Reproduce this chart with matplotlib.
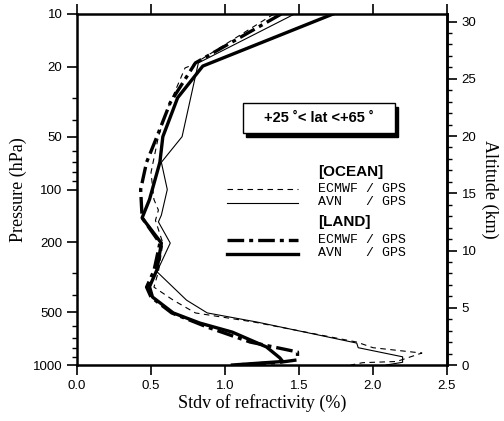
import matplotlib
matplotlib.use("Agg")
import matplotlib.pyplot as plt
from matplotlib.patches import Rectangle
from matplotlib.ticker import FixedLocator, NullFormatter
import numpy as np

# stdv of refractivity (%) vs pressure (hPa)
ocean_ecmwf_x = [1.33, 0.78, 0.73, 0.61, 0.55, 0.50, 0.52, 0.55, 0.53, 0.58, 0.55, 0.52,
                 0.65, 0.80, 1.20, 1.89, 2.00, 2.33, 2.16, 1.93, 1.85]
ocean_ecmwf_p = [10, 19.5, 20.3, 35, 50, 80, 114, 131, 150, 202, 294, 360,
                 427, 505, 570, 740, 797, 855, 955, 970, 1000]

ocean_avn_x = [1.47, 0.82, 0.71, 0.57, 0.61, 0.57, 0.55, 0.63, 0.54, 0.74, 0.88, 1.22,
               1.89, 1.90, 2.20, 2.20, 2.09]
ocean_avn_p = [10, 19, 50, 70, 100, 140, 153, 202, 294, 427, 505, 570,
               750, 797, 898, 965, 1000]

land_ecmwf_x = [1.38, 0.80, 0.63, 0.54, 0.47, 0.43, 0.44, 0.56, 0.52, 0.47, 0.50, 0.64,
                0.88, 1.17, 1.49, 1.49, 1.35, 1.07]
land_ecmwf_p = [10, 19, 32, 50, 70, 100, 145, 202, 290, 360, 410, 505,
                608, 740, 843, 935, 970, 1000]

land_avn_x = [1.73, 0.85, 0.68, 0.58, 0.56, 0.49, 0.44, 0.57, 0.54, 0.49, 0.51, 0.65,
              0.83, 1.05, 1.28, 1.37, 1.39, 1.05]
land_avn_p = [10, 19.8, 30, 50, 70, 114, 145, 202, 287, 358, 410, 505,
              577, 650, 789, 910, 955, 1000]

x_ticks = [0.0, 0.5, 1.0, 1.5, 2.0, 2.5]
p_ticks = [10, 20, 50, 100, 200, 500, 1000]
z_ticks = [0, 5, 10, 15, 20, 25, 30]

Z_TOP = 30.66


def p2z(p):
    p = np.clip(np.asarray(p, dtype=float), 1e-6, None)
    return Z_TOP / 2 * (3 - np.log10(p))


def z2p(z):
    return 10 ** (3 - np.asarray(z, dtype=float) / (Z_TOP / 2))


sans = "Liberation Sans"
serif = "Liberation Serif"
mono = "Liberation Mono"

fig = plt.figure(figsize=(5.04, 4.21), dpi=100)
ax = fig.add_axes([77 / 504, 1 - 365 / 421, 370 / 504, 351 / 421])

ax.plot(ocean_ecmwf_x, ocean_ecmwf_p, color="black", lw=0.8, ls=(0, (5, 4)))
ax.plot(ocean_avn_x, ocean_avn_p, color="black", lw=0.8)
ax.plot(land_ecmwf_x, land_ecmwf_p, color="black", lw=2.4, ls=(0, (5, 1.5, 1.2, 1.5)))
ax.plot(land_avn_x, land_avn_p, color="black", lw=2.4)

ax.set_yscale("log")
ax.set_ylim(1000, 10)
ax.set_xlim(0, 2.5)
ax.yaxis.set_major_locator(FixedLocator(p_ticks))
ax.set_yticklabels([str(t) for t in p_ticks], family=sans, fontsize=9.5)
ax.yaxis.set_minor_formatter(NullFormatter())
ax.set_xticks(x_ticks)
ax.set_xticklabels([f"{t:.1f}" for t in x_ticks], family=sans, fontsize=9.5)
ax.tick_params(axis="both", which="major", direction="out", length=7, width=1.2)
ax.tick_params(axis="y", which="minor", direction="out", length=3.5, width=1)
ax.tick_params(axis="x", top=True, labeltop=False)
for s in ax.spines.values():
    s.set_linewidth(1.8)

ax.set_xlabel("Stdv of refractivity (%)", family=serif, fontsize=13, labelpad=2)
ax.set_ylabel("Pressure (hPa)", family=serif, fontsize=13, labelpad=4)

sec = ax.secondary_yaxis("right", functions=(p2z, z2p))
sec.set_yticks(z_ticks)
sec.set_yticklabels([str(t) for t in z_ticks], family=sans, fontsize=9.5)
sec.yaxis.set_minor_locator(FixedLocator(np.arange(0, 31, 1)))
sec.yaxis.set_minor_formatter(NullFormatter())
sec.tick_params(which="major", direction="out", length=7, width=1.2)
sec.tick_params(which="minor", direction="out", length=3.5, width=1)
sec.spines["right"].set_linewidth(1.8)
sec.set_ylabel("Altitude (km)", family=serif, fontsize=13, rotation=270, labelpad=16)

# latitude box with shadow
bx0, bx1 = (243 - 77) / 370, (395 - 77) / 370
by0, by1 = (365 - 133) / 351, (365 - 103) / 351
ax.add_patch(Rectangle((bx0 + 0.009, by0 - 0.01), bx1 - bx0, by1 - by0,
                       transform=ax.transAxes, facecolor="black", edgecolor="black", zorder=5))
ax.add_patch(Rectangle((bx0, by0), bx1 - bx0, by1 - by0, transform=ax.transAxes,
                       facecolor="white", edgecolor="black", lw=1, zorder=6))
ax.text((bx0 + bx1) / 2, (by0 + by1) / 2, "+25 \u02da< lat <+65 \u02da",
        transform=ax.transAxes, ha="center", va="center", family=sans,
        fontsize=10.5, fontweight="bold", zorder=7)

# legend
lx0, lx1 = (227 - 77) / 370, (298 - 77) / 370
tx = (318 - 77) / 370


def fy(py):
    return (365 - py) / 351


ax.text(tx, fy(172), "[OCEAN]", transform=ax.transAxes, family=sans, fontsize=11,
        fontweight="bold", va="center")
ax.plot([lx0, lx1], [fy(189)] * 2, transform=ax.transAxes, color="black", lw=0.8, ls=(0, (5, 4)))
ax.text(tx, fy(189), "ECMWF / GPS", transform=ax.transAxes, family=mono, fontsize=9.5, va="center")
ax.plot([lx0, lx1], [fy(203)] * 2, transform=ax.transAxes, color="black", lw=0.8)
ax.text(tx, fy(202), "AVN   / GPS", transform=ax.transAxes, family=mono, fontsize=9.5, va="center")

ax.text(tx, fy(222), "[LAND]", transform=ax.transAxes, family=sans, fontsize=11,
        fontweight="bold", va="center")
ax.plot([lx0, lx1], [fy(240)] * 2, transform=ax.transAxes, color="black", lw=2.4,
        ls=(0, (5, 1.5, 1.2, 1.5)))
ax.text(tx, fy(240), "ECMWF / GPS", transform=ax.transAxes, family=mono, fontsize=9.5, va="center")
ax.plot([lx0, lx1], [fy(254)] * 2, transform=ax.transAxes, color="black", lw=2.4)
ax.text(tx, fy(253), "AVN   / GPS", transform=ax.transAxes, family=mono, fontsize=9.5, va="center")

fig.savefig("out.png", dpi=100)
